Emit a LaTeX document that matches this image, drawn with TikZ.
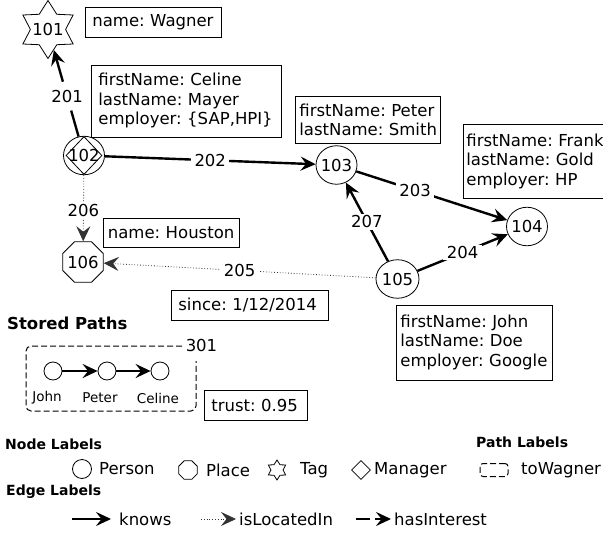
\documentclass[tikz,border=0pt]{standalone}
\usepackage{fontspec}
\setmainfont{DejaVu Sans}
\usetikzlibrary{arrows.meta,shapes.geometric}
\newcommand{\nlab}[1]{\makebox[0pt]{#1}}
\tikzset{
  gnode/.style={draw,line width=0.8pt,fill=white,inner sep=0pt,font=\fontsize{16.5}{18}\selectfont},
  gcirc/.style={gnode,ellipse,minimum width=41pt,minimum height=38.5pt},
  goct/.style={gnode,regular polygon,regular polygon sides=8,minimum size=44pt},
  gstar/.style={draw,line width=0.8pt,fill=white,star,star points=6,star point ratio=1.65,inner sep=0pt,minimum size=58pt},
  gdia/.style={draw,line width=0.8pt,diamond,inner sep=0pt,minimum width=36pt,minimum height=38pt},
  pbox/.style={draw,line width=0.8pt,fill=white,anchor=north west,align=left,inner ysep=0pt,font=\fontsize{16.5}{19.5}\selectfont},
  elabel/.style={fill=white,text=black,inner xsep=3.5pt,inner ysep=1.5pt,font=\fontsize{16.5}{18}\selectfont},
  txt/.style={inner sep=0pt,font=\fontsize{16.5}{18}\selectfont},
  small/.style={inner sep=0pt,font=\fontsize{13.5}{14}\selectfont},
  head/.style={inner sep=0pt,anchor=west,font=\fontsize{14}{16}\selectfont\bfseries},
  headl/.style={inner sep=0pt,anchor=west,font=\fontsize{16.5}{18}\selectfont\bfseries},
  tip/.style={-{Stealth[length=15pt,width=14pt,inset=5.5pt]}},
  knows/.style={tip,line width=2.4pt},
  located/.style={tip,line width=0.8pt,dotted,draw=black!80},
  interest/.style={tip,line width=2.4pt,dash pattern=on 27pt off 30pt},
  interestkey/.style={tip,line width=2.4pt,dash pattern=on 14pt off 5pt},
  dashbox/.style={draw,line width=1pt,inner sep=0pt,dash pattern=on 6pt off 3pt},
}
\begin{document}
\frenchspacing
\begin{tikzpicture}[x=1pt,y=-1pt]
\useasboundingbox (0,0) rectangle (603,533);
% graph nodes
\node[gstar] (n101) at (48,29.5) {};
\node[txt] (t101) at (48,29.5) {101};
\node[gcirc] (n102) at (84,155.5) {};
\node[gdia] (d102) at (84,155.5) {};
\node[txt] (t102) at (84,155.5) {102};
\node[gcirc] (n103) at (336.5,165) {\nlab{103}};
\node[gcirc] (n104) at (527,226.5) {\nlab{104}};
\node[gcirc,minimum width=43pt] (n105) at (397.5,279) {\nlab{105}};
\node[goct] (n106) at (83,262) {\nlab{106}};
% property boxes
\node[pbox,text width=122pt,inner xsep=7pt,minimum height=30pt] (bw) at (85,7) {name: Wagner};
\node[pbox,text width=176pt,inner xsep=7pt,minimum height=72pt] (bc) at (91,64.5) {firstName: Celine\\lastName: Mayer\\employer: \{SAP,HPI\}};
\node[pbox,text width=127pt,inner xsep=4.5pt,minimum height=29pt] (bh) at (103,218) {name: Houston};
\node[pbox,text width=141pt,inner xsep=2pt,minimum height=47pt] (bp) at (295,96) {\hspace{2pt}firstName: Peter\\\hspace{2pt}lastName: Smith};
\node[pbox,text width=146pt,inner xsep=3pt,minimum height=74pt] (bf) at (463,124) {firstName: Frank\\lastName: Gold\\employer: HP};
\node[pbox,text width=148pt,inner xsep=4pt,minimum height=75pt] (bj) at (396,304.5) {firstName: John\\lastName: Doe\\employer: Google};
\node[pbox,text width=143pt,inner xsep=7pt,minimum height=30pt] (bs) at (171,289.5) {since: 1/12/2014};
\node[pbox,text width=89pt,inner xsep=7pt,minimum height=30pt] (bt) at (204,390) {trust: 0.95};
% edges
\draw[interest] (n102) -- node[elabel,pos=0.46] {201} (n101);
\draw[knows] (n102) -- node[elabel,pos=0.5] {202} (n103);
\draw[knows] (n103) -- node[elabel,pos=0.39] {203} (n104);
\draw[knows] (n105) -- node[elabel,pos=0.5] {204} (n104);
\draw[located] (n105) -- node[elabel,pos=0.5] {205} (n106);
\draw[located] (n102) -- node[elabel,pos=0.53] {206} (n106);
\draw[knows] (n105) -- node[elabel,pos=0.5] {207} (n103);
% stored paths
\node[headl] (hs) at (7,323.5) {Stored Paths};
\node[dashbox,rounded corners=5pt,minimum width=170pt,minimum height=65pt] (pbx) at (111,378.5) {};
\node[fill=white,inner xsep=3pt,inner ysep=9pt,font=\fontsize{16.5}{18}\selectfont] (l301) at (201.5,345.5) {301};
\node[draw,line width=0.8pt,circle,minimum size=18pt,inner sep=0pt] (p1) at (53,371) {};
\node[draw,line width=0.8pt,circle,minimum size=18pt,inner sep=0pt] (p2) at (107,371) {};
\node[draw,line width=0.8pt,circle,minimum size=18pt,inner sep=0pt] (p3) at (160,371) {};
\draw[knows] (p1) -- (p2);
\draw[knows] (p2) -- (p3);
\node[small] (pl1) at (47,398) {John};
\node[small] (pl2) at (100,398) {Peter};
\node[small] (pl3) at (158,398) {Celine};
% legend
\node[head] (hn) at (5,444) {Node Labels};
\node[head] (hp) at (476,442) {Path Labels};
\node[head] (he) at (6,492) {Edge Labels};
\node[draw,line width=0.8pt,circle,minimum size=19pt,inner sep=0pt] (lc) at (82,469) {};
\node[txt,anchor=west] (lct) at (99,468.5) {Person};
\node[draw,line width=0.8pt,regular polygon,regular polygon sides=8,minimum size=20pt,inner sep=0pt] (lo) at (188,470) {};
\node[txt,anchor=west] (lot) at (206,470) {Place};
\node[draw,line width=0.8pt,star,star points=6,star point ratio=1.65,minimum size=20pt,inner sep=0pt] (ls) at (277,470) {};
\node[txt,anchor=west] (lst) at (300,470) {Tag};
\node[draw,line width=0.8pt,diamond,minimum size=19pt,inner sep=0pt] (ld) at (361,470) {};
\node[txt,anchor=west] (ldt) at (374,470) {Manager};
\node[dashbox,rounded corners=3pt,minimum width=28pt,minimum height=13pt] (lp) at (494,470) {};
\node[txt,anchor=west] (lpt) at (521,470) {toWagner};
\coordinate (k0) at (72,519);
\coordinate (k1) at (111,519);
\node[txt,anchor=west] (kt) at (119,519) {knows};
\draw[knows] (k0) -- (k1);
\coordinate (i0) at (201,519);
\coordinate (i1) at (236,519);
\node[txt,anchor=west] (it) at (239,519) {isLocatedIn};
\draw[located] (i0) -- (i1);
\coordinate (h0) at (356,519);
\coordinate (h1) at (391,519);
\node[txt,anchor=west] (ht) at (394,519) {hasInterest};
\draw[interestkey] (h0) -- (h1);
\end{tikzpicture}
\end{document}
